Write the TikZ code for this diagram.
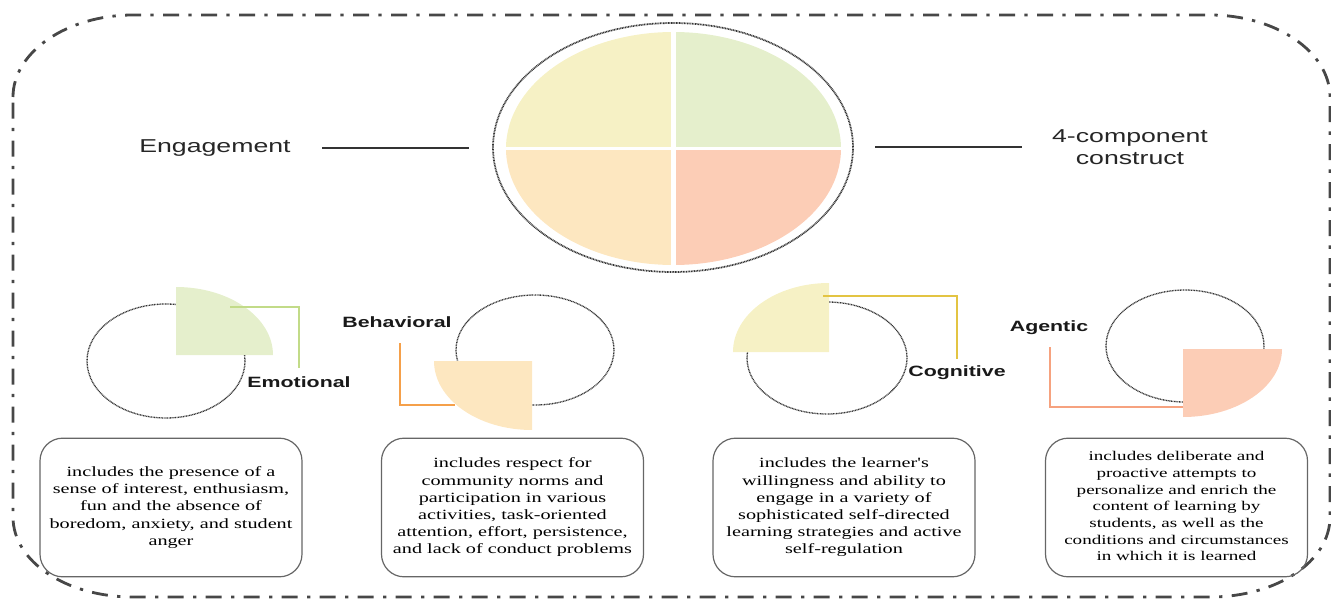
\documentclass[tikz,border=0pt]{standalone}
\usepackage{fontspec}
\usepackage{graphicx}
\setmainfont{Liberation Serif}
\newfontfamily\arialf{Liberation Sans}
\newcommand\wx[1]{\scalebox{1.43}[1]{#1}}
\definecolor{emoC}{HTML}{E5EFCC}
\definecolor{behC}{HTML}{FDE7C0}
\definecolor{cogC}{HTML}{F6F1C5}
\definecolor{ageC}{HTML}{FCCDB6}
\definecolor{emoL}{HTML}{C2DB88}
\definecolor{behL}{HTML}{F5A04A}
\definecolor{cogL}{HTML}{E3C443}
\definecolor{ageL}{HTML}{F6A27F}
\begin{document}
\begin{tikzpicture}[x=0.75pt,y=-0.75pt,
  border/.style={draw=black!72, line width=2.1pt, dash pattern=on 12pt off 7pt on 2.5pt off 7pt},
  dotell/.style={draw=black!80, line width=1pt, dash pattern=on 0.7pt off 0.5pt},
  lbl/.style={inner sep=0pt, text=black!90, font=\arialf\bfseries\fontsize{11.2}{13}\selectfont},
  ttl/.style={inner sep=0pt, text=black!85, font=\arialf\fontsize{14}{16.5}\selectfont},
  desc/.style={draw=black!60, line width=0.9pt, rounded corners=17pt, minimum width=196.5pt,
    minimum height=104pt, inner sep=0pt, text=black},
  link/.style={line width=1.5pt},
  hline/.style={draw=black!80, line width=1.1pt}]
\useasboundingbox (0,0) rectangle (1331,599);

% outer dash-dot frame
\draw[border] (13,97) .. controls (13,52) and (67,15) .. (133,15) -- (1210,15)
  .. controls (1276,15) and (1330,52) .. (1330,97) -- (1330,517)
  .. controls (1330,562) and (1276,597) .. (1210,597) -- (133,597)
  .. controls (67,597) and (13,562) .. (13,517) -- cycle;

% main pie
\coordinate (pc) at (673.5,148.5);
\fill[cogC] (pc) -- ++(-167.5,0) arc[start angle=180, end angle=270, x radius=167.5, y radius=116.5] -- cycle;
\fill[emoC] (pc) -- ++(167.5,0) arc[start angle=0, end angle=-90, x radius=167.5, y radius=116.5] -- cycle;
\fill[behC] (pc) -- ++(-167.5,0) arc[start angle=180, end angle=90, x radius=167.5, y radius=116.5] -- cycle;
\fill[ageC] (pc) -- ++(167.5,0) arc[start angle=0, end angle=90, x radius=167.5, y radius=116.5] -- cycle;
\draw[white, line width=3.5pt] (673.5,25) -- (673.5,272);
\draw[white, line width=2pt] (500,148.5) -- (847,148.5);
\draw[dotell, line width=1.3pt] (673,147.5) ellipse[x radius=180, y radius=124.5];

% titles
\node[ttl] (eng) at (215,148) {\wx{Engagement}};
\node[ttl] (cons) at (1130,149) {\wx{\begin{tabular}{@{}c@{}}4-component\\construct\end{tabular}}};
\coordinate (engA) at (322,148);
\coordinate (engB) at (469,148);
\coordinate (conA) at (875,147);
\coordinate (conB) at (1022,147);
\draw[hline] (engA) -- (engB);
\draw[hline] (conA) -- (conB);

% Emotional
\draw[dotell] (166,361) ellipse[x radius=79, y radius=57];
\fill[emoC] (176,355) -- ++(97,0) arc[start angle=0, end angle=-90, x radius=97, y radius=68] -- cycle;
\node[lbl] (emo) at (299,382) {\wx{Emotional}};
\coordinate (emA) at (230,307);
\coordinate (emB) at (299,368);
\draw[link, emoL] (emA) -| (emB);

% Behavioral
\node[lbl] (beh) at (397,322) {\wx{Behavioral}};
\draw[dotell] (535,350) ellipse[x radius=79, y radius=55];
\coordinate (beA) at (400,343);
\coordinate (beB) at (455,405);
\draw[link, behL] (beA) |- (beB);
\fill[behC] (532,361) -- ++(-98,0) arc[start angle=180, end angle=90, x radius=98, y radius=69] -- cycle;

% Cognitive
\draw[dotell] (827,358) ellipse[x radius=80, y radius=56];
\fill[cogC] (829,352) -- ++(-96,0) arc[start angle=180, end angle=270, x radius=96, y radius=69] -- cycle;
\node[lbl] (cog) at (957,373) {\wx{Cognitive}};
\coordinate (coA) at (823,296);
\coordinate (coB) at (957,359);
\draw[link, cogL] (coA) -| (coB);

% Agentic
\node[lbl] (age) at (1049,328) {\wx{Agentic}};
\draw[dotell] (1185,346) ellipse[x radius=79, y radius=56];
\coordinate (agA) at (1050,347);
\coordinate (agB) at (1184,407);
\draw[link, ageL] (agA) |- (agB);
\fill[ageC] (1183,349) -- ++(99,0) arc[start angle=0, end angle=90, x radius=99, y radius=68] -- cycle;

% description boxes
\node[desc, font=\fontsize{10.6}{13}\selectfont] (b1) at (171,507.5) {\wx{\begin{tabular}{@{}c@{}}includes the presence of a\\sense of interest, enthusiasm,\\fun and the absence of\\boredom, anxiety, and student\\anger\end{tabular}}};
\node[desc, font=\fontsize{10.6}{12.9}\selectfont] (b2) at (512.5,507.5) {\wx{\begin{tabular}{@{}c@{}}includes respect for\\community norms and\\participation in various\\activities, task-oriented\\attention, effort, persistence,\\and lack of conduct problems\end{tabular}}};
\node[desc, font=\fontsize{10.6}{12.9}\selectfont] (b3) at (844,507.5) {\wx{\begin{tabular}{@{}c@{}}includes the learner\textquotesingle s\\willingness and ability to\\engage in a variety of\\sophisticated self-directed\\learning strategies and active\\self-regulation\end{tabular}}};
\node[desc, font=\fontsize{10}{12.5}\selectfont] (b4) at (1176.5,507.5) {\wx{\begin{tabular}{@{}c@{}}includes deliberate and\\proactive attempts to\\personalize and enrich the\\content of learning by\\students, as well as the\\conditions and circumstances\\in which it is learned\end{tabular}}};
\end{tikzpicture}
\end{document}
